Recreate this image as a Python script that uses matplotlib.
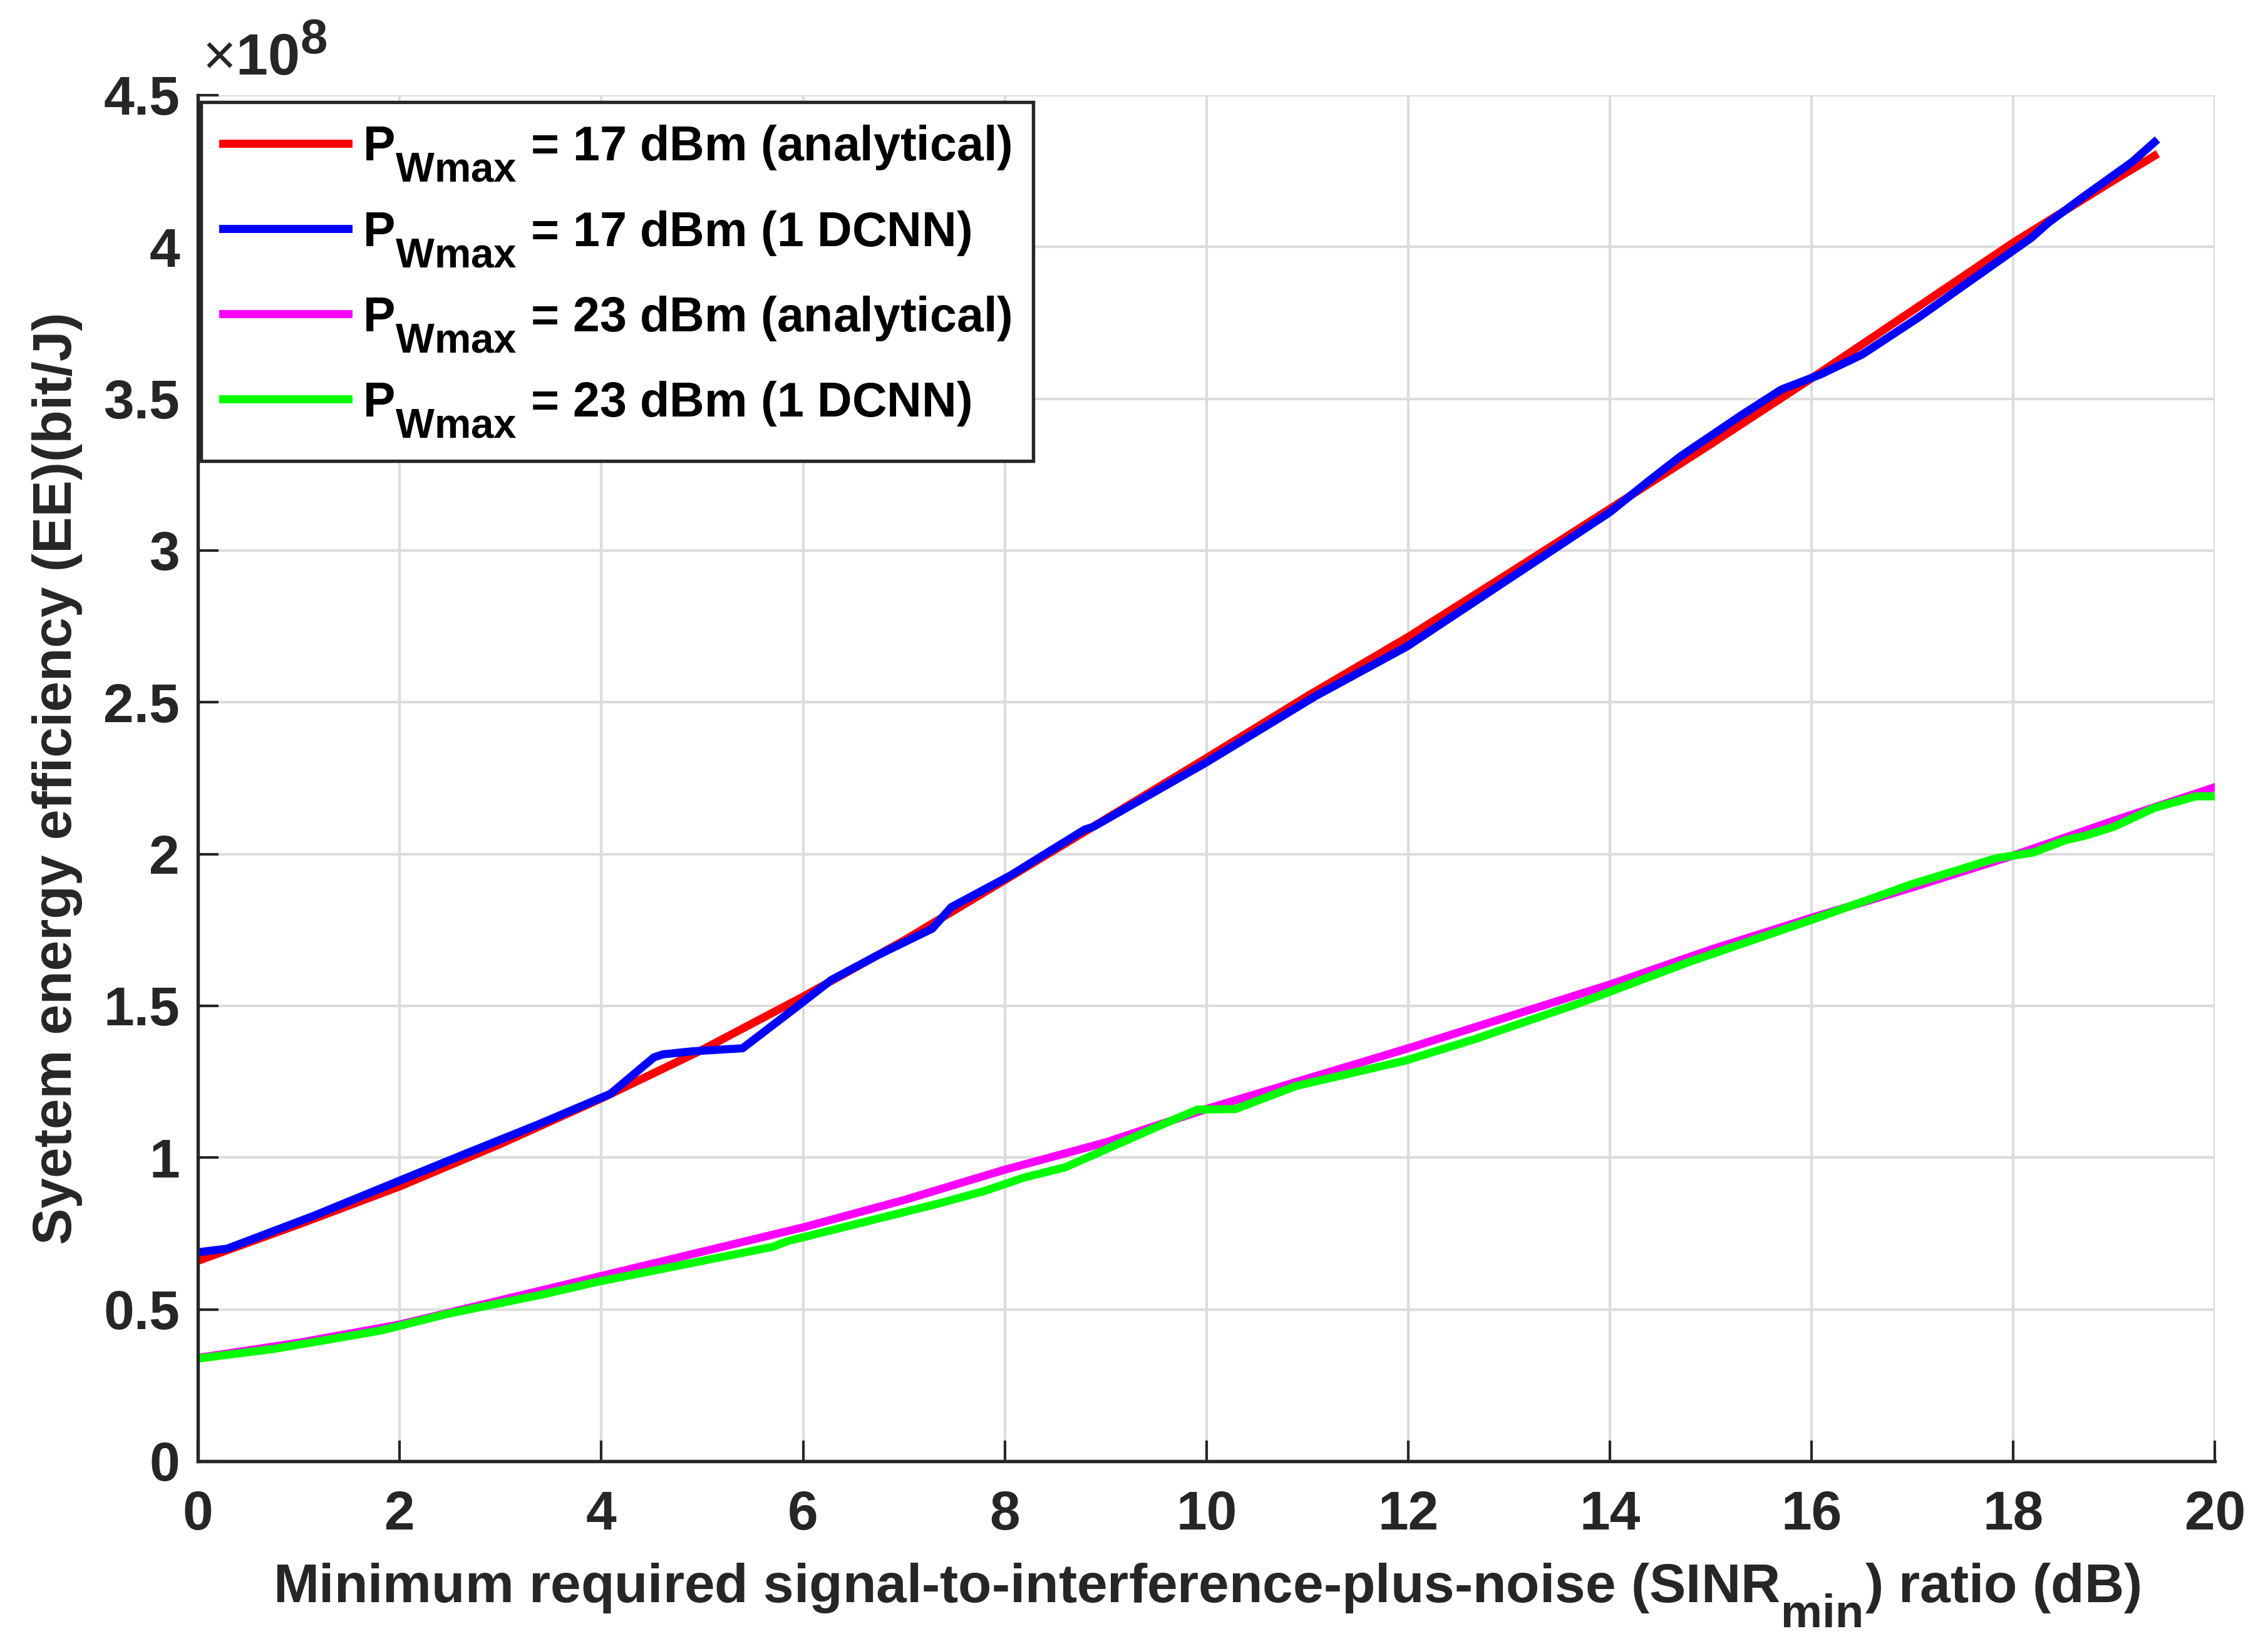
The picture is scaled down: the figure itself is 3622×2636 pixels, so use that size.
import matplotlib
matplotlib.use("Agg")
import matplotlib.pyplot as plt
import matplotlib._mathtext as mtext
from matplotlib.ticker import FuncFormatter

# MATLAB draws subscripts larger and lower than mathtext does
mtext.SHRINK_FACTOR = 0.85
mtext.FontConstantsBase.sub1 = 0.85

plt.rcParams["font.family"] = ["Liberation Sans", "DejaVu Sans"]
plt.rcParams["font.weight"] = "bold"
plt.rcParams["mathtext.fontset"] = "custom"
plt.rcParams["mathtext.rm"] = "Liberation Sans:regular"
plt.rcParams["mathtext.bf"] = "Liberation Sans:bold"

# values (EE in units of 1e8 bit/J)
sinr_ana_17 = [0, 1, 2, 3, 4, 5, 6, 7, 8, 9, 10, 11, 12, 13, 14, 15, 16, 17, 18, 19, 19.4]
ee_ana_17 = [0.66, 0.78, 0.905, 1.045, 1.195, 1.355, 1.53, 1.715, 1.914, 2.115, 2.316,
             2.52, 2.715, 2.925, 3.137, 3.35, 3.567, 3.79, 4.014, 4.22, 4.30]

sinr_dcnn_17 = [0, 0.29, 1.14, 2.19, 2.67, 3.38, 4.09, 4.52, 4.61, 4.90, 5.40, 5.99, 6.28,
                6.73, 7.28, 7.47, 8.06, 8.38, 8.79, 8.88, 9.99, 11.08, 11.58, 11.99, 14.0,
                14.39, 14.70, 15.31, 15.70, 16.09, 16.50, 17.05, 18.18, 18.35, 18.70, 19.18, 19.40]
ee_dcnn_17 = [0.688, 0.70, 0.807, 0.95, 1.015, 1.11, 1.21, 1.33, 1.34, 1.35, 1.36, 1.51, 1.585,
              1.665, 1.754, 1.825, 1.93, 1.996, 2.08, 2.09, 2.30, 2.52, 2.61, 2.684, 3.126,
              3.23, 3.31, 3.447, 3.53, 3.58, 3.645, 3.765, 4.03, 4.08, 4.166, 4.28, 4.345]

sinr_ana_23 = [0, 1, 2, 3, 4, 5, 6, 7, 8, 9, 10, 11, 12, 13, 14, 15, 16, 17, 18, 19, 20]
ee_ana_23 = [0.34, 0.39, 0.45, 0.53, 0.61, 0.69, 0.77, 0.86, 0.96, 1.05, 1.16, 1.26, 1.36,
             1.465, 1.57, 1.685, 1.79, 1.89, 1.995, 2.11, 2.22]

sinr_dcnn_23 = [0, 0.76, 1.81, 2.47, 3.43, 3.95, 5.7, 5.85, 7.36, 7.8, 8.2, 8.6, 9.57, 9.91,
                10.29, 10.89, 11.72, 11.98, 12.66, 13.71, 14.79, 16.0, 16.99, 17.83, 18.2,
                18.52, 18.71, 19.0, 19.40, 19.81, 20.0]
ee_dcnn_23 = [0.338, 0.37, 0.43, 0.485, 0.55, 0.59, 0.706, 0.725, 0.85, 0.89, 0.935, 0.968,
              1.11, 1.158, 1.16, 1.236, 1.30, 1.32, 1.39, 1.51, 1.645, 1.783, 1.90, 1.986,
              2.005, 2.046, 2.06, 2.09, 2.152, 2.19, 2.19]

labels = [r"$\mathbf{P_{Wmax}}$ = 17 dBm (analytical)",
          r"$\mathbf{P_{Wmax}}$ = 17 dBm (1 DCNN)",
          r"$\mathbf{P_{Wmax}}$ = 23 dBm (analytical)",
          r"$\mathbf{P_{Wmax}}$ = 23 dBm (1 DCNN)"]

scale = 1e8
dark = "#262626"

fig = plt.figure(figsize=(3622 / 300, 2636 / 300), dpi=300)
ax = fig.add_axes([0.0873, 0.115, 0.8893, 0.8274])

lw = 3.1
ax.plot(sinr_ana_17, [v * scale for v in ee_ana_17], color="#ff0000", lw=lw, label=labels[0])
ax.plot(sinr_dcnn_17, [v * scale for v in ee_dcnn_17], color="#0000ff", lw=lw, label=labels[1])
ax.plot(sinr_ana_23, [v * scale for v in ee_ana_23], color="#ff00ff", lw=lw, label=labels[2])
ax.plot(sinr_dcnn_23, [v * scale for v in ee_dcnn_23], color="#00ff00", lw=lw, label=labels[3])

ax.set_xlim(0, 20)
ax.set_ylim(0, 4.5 * scale)
ax.set_xticks(range(0, 21, 2))
ax.set_yticks([i * 0.5 * scale for i in range(10)])
ax.yaxis.set_major_formatter(FuncFormatter(lambda v, p: "%g" % (v / scale)))

ax.grid(True, color="#dcdcdc", lw=1.0)
ax.set_axisbelow(True)
for s in ["top", "right"]:
    ax.spines[s].set_visible(False)
for s in ["left", "bottom"]:
    ax.spines[s].set_color(dark)
    ax.spines[s].set_linewidth(1.3)

ax.tick_params(axis="x", direction="in", length=8, width=1.0, colors=dark,
               labelsize=21, pad=11)
ax.tick_params(axis="y", direction="in", length=8, width=1.0, colors=dark,
               labelsize=21, pad=7)
for t in ax.get_xticklabels() + ax.get_yticklabels():
    t.set_fontweight("bold")

ax.set_xlabel(r"Minimum required signal-to-interference-plus-noise (SINR$_{\mathbf{min}}$) ratio (dB)",
              fontsize=21, fontweight="bold", color=dark, labelpad=8)
ax.set_ylabel("Syetem energy efficiency (EE)(bit/J)", fontsize=21, fontweight="bold",
              color=dark, labelpad=8)

ax.text(0.002, 1.006, r"$\times\mathbf{10^{8}}$", transform=ax.transAxes,
        fontsize=22, color=dark, ha="left", va="bottom")

leg = ax.legend(loc="upper left", bbox_to_anchor=(0.0015, 0.995), fontsize=18.5,
                handlelength=2.6, handletextpad=0.3, labelspacing=0.52,
                borderpad=0.45, borderaxespad=0.0, fancybox=False, framealpha=1)
leg.get_frame().set_edgecolor(dark)
leg.get_frame().set_linewidth(1.3)
for t in leg.get_texts():
    t.set_fontweight("bold")

fig.savefig("out.png", dpi=300)
